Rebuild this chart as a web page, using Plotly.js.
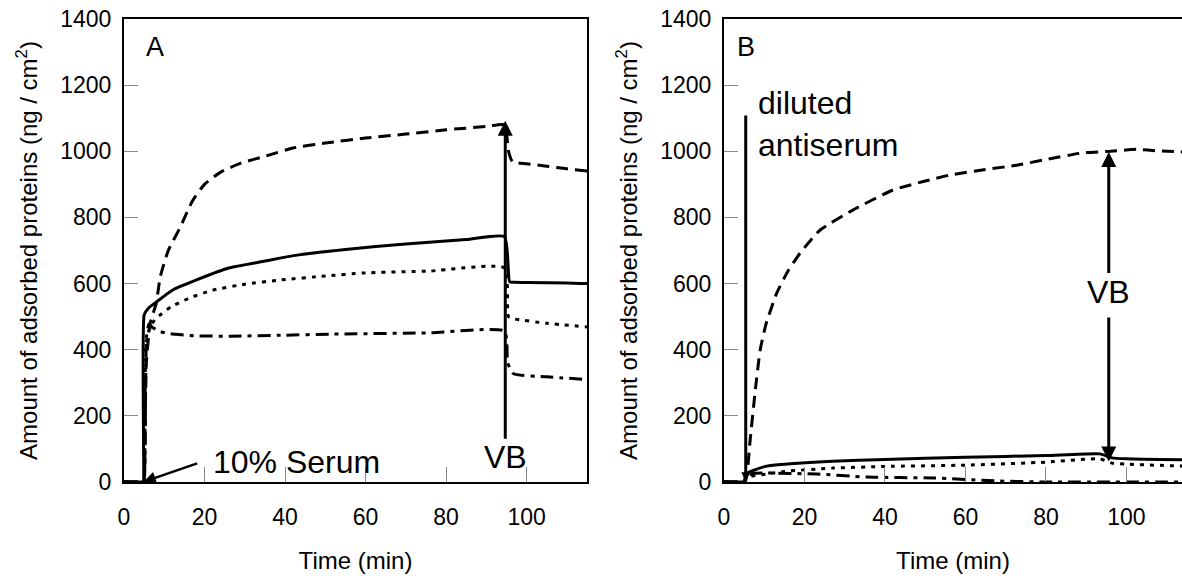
<!DOCTYPE html>
<html>
<head>
<meta charset="utf-8">
<script src="https://cdn.plot.ly/plotly-3.0.1.min.js"></script>
<style>html,body{margin:0;padding:0;background:#fff}#chart{width:1182px;height:576px}</style>
</head>
<body>
<div id="chart"></div>
<script>
// ---------- Panel A : 10% serum ----------
const aDashT = [0, 4.9, 5, 5.5, 6.5, 8, 9, 11, 14, 17, 20, 24, 29, 35, 42, 50, 60, 70, 80, 90, 94.5, 95.5, 96.5, 100, 105, 110, 115];
const aDashV = [0, 0, 0, 350, 480, 540, 620, 700, 771, 850, 900, 937, 964, 985, 1010, 1025, 1040, 1052, 1065, 1075, 1080, 1000, 968, 962, 955, 947, 940];

const aSolidT = [0, 4.7, 4.8, 5, 6, 8, 12, 18, 26, 35, 43, 55, 70, 85, 94.5, 95.8, 97, 100, 110, 115];
const aSolidV = [0, 0, 0, 505, 525, 544, 580, 611, 647, 668, 686, 703, 720, 733, 742, 605, 604, 603, 602, 600];

const aDotT = [0, 4.9, 5, 5.5, 6.5, 8, 11.6, 16, 22, 30, 39, 50, 59.5, 76, 94.5, 95.5, 97, 105, 115];
const aDotV = [0, 0, 0, 420, 470, 495, 529, 555, 580, 598, 611, 623, 632, 638, 647, 500, 493, 480, 469];

const aDashDotT = [0, 4.9, 5, 5.6, 6.2, 7, 9, 11.6, 18, 26.5, 40, 51, 76, 94.5, 95.3, 96.8, 105, 115];
const aDashDotV = [0, 0, 0, 440, 478, 468, 455, 448, 442, 441, 444, 447, 451, 456, 360, 327, 318, 310];

// ---------- Panel B : diluted antiserum ----------
const bDashT = [0, 4.9, 5, 5.6, 6.5, 7.7, 9, 10.5, 13.1, 16, 18.9, 23.9, 32, 42, 50, 56, 65, 72.7, 80, 89, 96, 102.6, 108, 114];
const bDashV = [0, 0, 0, 15, 127, 269, 400, 480, 571, 640, 692, 762, 822, 883, 910, 928, 945, 958, 975, 995, 1000, 1006, 1001, 998];

const bSolidT = [0, 4.9, 5, 5.5, 8, 10.6, 15, 27, 40, 60, 80, 93.4, 96.4, 100, 114];
const bSolidV = [0, 0, 0, 25, 38, 48, 54, 63, 68, 75, 80, 85, 73, 70, 67];

const bDotT = [0, 4.9, 5, 6, 10.6, 15, 27, 40, 60, 80, 93.4, 96.4, 100, 114];
const bDotV = [0, 0, 0, 15, 24, 32, 42, 47, 51, 60, 70, 57, 54, 48];

const bDashDotT = [0, 4.9, 5, 7, 10.6, 23, 35.5, 52, 68.6, 80, 114];
const bDashDotV = [0, 0, 0, 25, 27, 24, 15, 12, 3, 0, 0];

// ---------- ticks / labels ----------
const xTicks = [0, 20, 40, 60, 80, 100];
const yTicks = [0, 200, 400, 600, 800, 1000, 1200, 1400];
const yTitle = 'Amount of adsorbed proteins (ng / cm<sup>2</sup>)';
const xTitle = 'Time (min)';

const FONT = 'Liberation Sans, Arial, Helvetica, sans-serif';
const LW = 3;
const DASH = '12px,7px';
const DOT = '4px,6px';
const DASHDOT = '13px,6px,4px,6px';

function tr(x, y, dash, xa, ya) {
  return {x: x, y: y, type: 'scatter', mode: 'lines', xaxis: xa, yaxis: ya,
    line: {color: '#000', width: LW, dash: dash, shape: 'spline', smoothing: 0.5},
    hoverinfo: 'skip', showlegend: false};
}

const data = [
  tr(aDashT, aDashV, DASH, 'x', 'y'),
  tr(aDotT, aDotV, DOT, 'x', 'y'),
  tr(aDashDotT, aDashDotV, DASHDOT, 'x', 'y'),
  tr(aSolidT, aSolidV, 'solid', 'x', 'y'),
  tr(bDashT, bDashV, DASH, 'x2', 'y2'),
  tr(bDotT, bDotV, DOT, 'x2', 'y2'),
  tr(bDashDotT, bDashDotV, DASHDOT, 'x2', 'y2'),
  tr(bSolidT, bSolidV, 'solid', 'x2', 'y2')
];

function xax(domain, range, mirror) {
  return {domain: domain, range: range, tickvals: xTicks, ticks: 'inside', ticklen: 15,
    tickcolor: '#8a8a8a', tickwidth: 1, showline: true, linecolor: '#000', linewidth: 2,
    mirror: mirror, showgrid: false, zeroline: false, fixedrange: true,
    tickfont: {family: FONT, size: 23, color: '#000'}, ticklabelstandoff: 13,
    title: {text: xTitle, font: {family: FONT, size: 24, color: '#000'}, standoff: 24}};
}
function yax(domain, anchor, mirror) {
  return {domain: domain, range: [0, 1400], tickvals: yTicks, ticks: 'inside', ticklen: 14,
    tickcolor: '#8a8a8a', tickwidth: 1, showline: true, linecolor: '#000', linewidth: 2,
    mirror: mirror, showgrid: false, zeroline: false, fixedrange: true, anchor: anchor,
    tickfont: {family: FONT, size: 23, color: '#000'}, ticklabelstandoff: 6,
    title: {text: yTitle, font: {family: FONT, size: 24, color: '#000'}, standoff: 16}};
}

const yDom = [94 / 576, 557 / 576];

function arrow(xr, yr, x, y, ax, ay, text, size, w, hsize) {
  return {xref: xr, yref: yr, axref: xr, ayref: yr, x: x, y: y, ax: ax, ay: ay, text: text,
    showarrow: true, arrowhead: 2, arrowwidth: w, arrowsize: hsize, arrowcolor: '#000',
    font: {family: FONT, size: size, color: '#000'}, borderpad: 0};
}
function label(xr, yr, x, y, text, size, xanchor) {
  return {xref: xr, yref: yr, x: x, y: y, text: text, showarrow: false, xanchor: xanchor || 'center',
    yanchor: 'middle', align: 'left', font: {family: FONT, size: size, color: '#000'}};
}

const annotations = [
  // Panel A
  label('x', 'y', 7.6, 1315, 'A', 27),
  arrow('x', 'y', 94.7, 1092, 94.7, 75, 'VB', 32, 3, 1),
  arrow('x', 'y', 4.8, 0, 18.3, 57, '', 12, 2.5, 1),
  label('x', 'y', 21.5, 62, '10% Serum', 32, 'left'),
  // Panel B
  label('x2', 'y2', 5.5, 1315, 'B', 27),
  arrow('x2', 'y2', 5.4, 2, 5.4, 1110, '', 12, 3, 0.6),
  label('x2', 'y2', 8.0, 1082, 'diluted<br>antiserum', 32, 'left'),
  arrow('x2', 'y2', 95.6, 998, 95.6, 576, 'VB', 32, 3, 1),
  arrow('x2', 'y2', 95.6, 62, 95.6, 499, '', 12, 3, 1)
];

const layout = {
  width: 1182, height: 576,
  margin: {l: 0, r: 0, t: 0, b: 0},
  paper_bgcolor: '#fff', plot_bgcolor: '#fff',
  showlegend: false,
  font: {family: FONT, color: '#000'},
  xaxis: xax([124 / 1182, 587 / 1182], [0, 115], true),
  yaxis: yax(yDom, 'x', true),
  xaxis2: xax([724 / 1182, 1], [0, 113.8], true),
  yaxis2: yax(yDom, 'x2', false),
  annotations: annotations
};
layout.xaxis.anchor = 'y';
layout.xaxis2.anchor = 'y2';

Plotly.newPlot('chart', data, layout, {displayModeBar: false, staticPlot: true});
</script>
</body>
</html>
